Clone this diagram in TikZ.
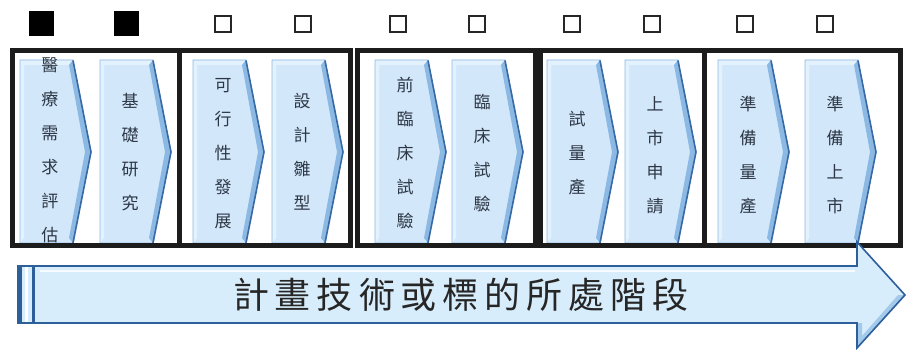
\documentclass[tikz,border=0pt]{standalone}
\usepackage{fontspec}
\newfontfamily\cjk{Noto Sans CJK TC}
\definecolor{chevfill}{RGB}{210,232,250}
\definecolor{chevlight}{RGB}{228,242,253}
\definecolor{chevbevel}{RGB}{140,185,228}
\definecolor{chevdark}{RGB}{55,105,165}
\definecolor{txt}{RGB}{45,55,70}
\definecolor{arrowfill}{RGB}{216,237,251}
\definecolor{arrowedge}{RGB}{45,95,155}
\definecolor{frame}{RGB}{28,28,28}
\tikzset{
  filledbox/.style={fill=black, minimum size=25pt, inner sep=0pt},
  emptybox/.style={draw=black!85, line width=1.3pt, fill=white, minimum size=16pt, inner sep=0pt},
  groupframe/.style={draw=frame, line width=5pt},
  chevtext/.style={text=txt, align=center, font=\cjk\fontsize{17}{34}\selectfont, inner sep=0pt},
  titletext/.style={text=black!85, font=\cjk\fontsize{36}{36}\selectfont, inner sep=0pt},
}
\newcommand\mychev[4]{%
  % #1 name, #2 left x, #3 text, #4 text y
  \fill[chevfill] (#2,60) -- ({#2+53},60) -- ({#2+71},152) -- ({#2+53},243) -- (#2,243) -- cycle;
  \fill[chevlight] (#2,60) -- ({#2+53},60) -- ({#2+49},65) -- ({#2+4},65) -- ({#2+4},238) -- (#2,243) -- cycle;
  \fill[chevbevel] ({#2+49},65) -- ({#2+53},60) -- ({#2+71},152) -- ({#2+53},243) -- ({#2+49},238) -- ({#2+65},152) -- cycle;
  \draw[chevbevel, line width=0.6pt] (#2,60) -- ({#2+53},60) -- ({#2+71},152) -- ({#2+53},243) -- (#2,243) -- cycle;
  \draw[chevdark, line width=1.6pt] ({#2+53},60.5) -- ({#2+71},152) -- ({#2+53},243);
  \node[chevtext] (#1) at ({#2+30},#4) {#3};
}
\begin{document}
\begin{tikzpicture}[x=1pt,y=-1pt]
\useasboundingbox (0,0) rectangle (906,350);
\fill[white] (0,0) rectangle (906,350);

% checkboxes
\node[filledbox] (cb1) at (41,24) {};
\node[filledbox] (cb2) at (126,24) {};
\node[emptybox] (cb3) at (223,24) {};
\node[emptybox] (cb4) at (303,24) {};
\node[emptybox] (cb5) at (398,24) {};
\node[emptybox] (cb6) at (477,24) {};
\node[emptybox] (cb7) at (572,24) {};
\node[emptybox] (cb8) at (652,24) {};
\node[emptybox] (cb9) at (745,24) {};
\node[emptybox] (cb10) at (825,24) {};

% chevrons
\mychev{c1}{20}{醫\\療\\需\\求\\評\\估}{150}
\mychev{c2}{100}{基\\礎\\研\\究}{152}
\mychev{c3}{193}{可\\行\\性\\發\\展}{154}
\mychev{c4}{272}{設\\計\\雛\\型}{152}
\mychev{c5}{375}{前\\臨\\床\\試\\驗}{153}
\mychev{c6}{452}{臨\\床\\試\\驗}{153}
\mychev{c7}{547}{試\\量\\產}{153}
\mychev{c8}{625}{上\\市\\申\\請}{155}
\mychev{c9}{718}{準\\備\\量\\產}{155}
\mychev{c10}{805}{準\\備\\上\\市}{155}

% group frames
\draw[groupframe] (12.5,50.5) rectangle (179,246);
\draw[groupframe] (179,50.5) rectangle (350.5,246);
\draw[groupframe] (357.5,50.5) rectangle (535,246);
\draw[groupframe] (540.5,50.5) rectangle (704,246);
\draw[groupframe] (704,50.5) rectangle (900.5,246);

% bottom arrow
\fill[arrowfill] (18,266) -- (857,266) -- (857,242) -- (905,295) -- (857,348) -- (857,323) -- (18,323) -- cycle;
\draw[white, line width=2pt, opacity=0.8] (40,271) -- (855,271);
\fill[chevbevel!70!arrowfill] (857,323) -- (857,348) -- (905,295) -- (898,295) -- (862,336) -- (862,323) -- cycle;
\draw[arrowedge, line width=1.6pt, line join=miter] (18,266) -- (857,266) -- (857,242) -- (905,295) -- (857,348) -- (857,323) -- (18,323) -- cycle;
\draw[arrowedge, line width=3.5pt] (20.5,266) -- (20.5,323);
\draw[white, line width=3pt] (26.5,267) -- (26.5,322);
\draw[arrowedge, line width=3.5pt] (33.5,266) -- (33.5,323);
\node[titletext] (title) at (461,295) {計\kern6pt 畫\kern6pt 技\kern6pt 術\kern6pt 或\kern6pt 標\kern6pt 的\kern6pt 所\kern6pt 處\kern6pt 階\kern6pt 段};
\end{tikzpicture}
\end{document}
